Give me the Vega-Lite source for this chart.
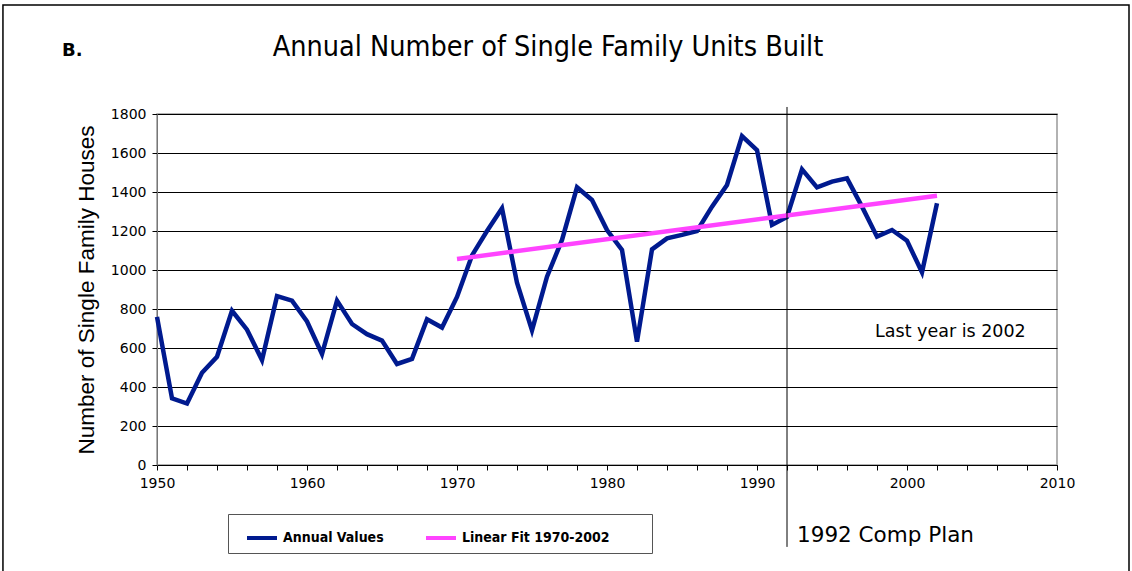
{
  "$schema": "https://vega.github.io/schema/vega-lite/v6.json",
  "width": 900,
  "height": 351,
  "autosize": {"type": "none"},
  "padding": {"left": 157, "top": 114, "right": 75, "bottom": 106},
  "background": "white",
  "config": {
    "view": {"stroke": "#999999", "strokeWidth": 1.5},
    "axis": {"labelFont": "DejaVu Sans", "labelFontSize": 14, "labelColor": "black", "labelOverlap": false}
  },
  "datasets": {
    "series": [
      {"year": 1950, "value": 760, "series": "Annual Values"},
      {"year": 1951, "value": 342, "series": "Annual Values"},
      {"year": 1952, "value": 315, "series": "Annual Values"},
      {"year": 1953, "value": 473, "series": "Annual Values"},
      {"year": 1954, "value": 555, "series": "Annual Values"},
      {"year": 1955, "value": 791, "series": "Annual Values"},
      {"year": 1956, "value": 694, "series": "Annual Values"},
      {"year": 1957, "value": 538, "series": "Annual Values"},
      {"year": 1958, "value": 866, "series": "Annual Values"},
      {"year": 1959, "value": 843, "series": "Annual Values"},
      {"year": 1960, "value": 736, "series": "Annual Values"},
      {"year": 1961, "value": 569, "series": "Annual Values"},
      {"year": 1962, "value": 843, "series": "Annual Values"},
      {"year": 1963, "value": 723, "series": "Annual Values"},
      {"year": 1964, "value": 671, "series": "Annual Values"},
      {"year": 1965, "value": 638, "series": "Annual Values"},
      {"year": 1966, "value": 518, "series": "Annual Values"},
      {"year": 1967, "value": 544, "series": "Annual Values"},
      {"year": 1968, "value": 747, "series": "Annual Values"},
      {"year": 1969, "value": 705, "series": "Annual Values"},
      {"year": 1970, "value": 862, "series": "Annual Values"},
      {"year": 1971, "value": 1075, "series": "Annual Values"},
      {"year": 1972, "value": 1200, "series": "Annual Values"},
      {"year": 1973, "value": 1316, "series": "Annual Values"},
      {"year": 1974, "value": 935, "series": "Annual Values"},
      {"year": 1975, "value": 690, "series": "Annual Values"},
      {"year": 1976, "value": 966, "series": "Annual Values"},
      {"year": 1977, "value": 1154, "series": "Annual Values"},
      {"year": 1978, "value": 1424, "series": "Annual Values"},
      {"year": 1979, "value": 1359, "series": "Annual Values"},
      {"year": 1980, "value": 1205, "series": "Annual Values"},
      {"year": 1981, "value": 1103, "series": "Annual Values"},
      {"year": 1982, "value": 632, "series": "Annual Values"},
      {"year": 1983, "value": 1106, "series": "Annual Values"},
      {"year": 1984, "value": 1162, "series": "Annual Values"},
      {"year": 1985, "value": 1180, "series": "Annual Values"},
      {"year": 1986, "value": 1200, "series": "Annual Values"},
      {"year": 1987, "value": 1325, "series": "Annual Values"},
      {"year": 1988, "value": 1436, "series": "Annual Values"},
      {"year": 1989, "value": 1687, "series": "Annual Values"},
      {"year": 1990, "value": 1615, "series": "Annual Values"},
      {"year": 1991, "value": 1231, "series": "Annual Values"},
      {"year": 1992, "value": 1272, "series": "Annual Values"},
      {"year": 1993, "value": 1516, "series": "Annual Values"},
      {"year": 1994, "value": 1424, "series": "Annual Values"},
      {"year": 1995, "value": 1453, "series": "Annual Values"},
      {"year": 1996, "value": 1470, "series": "Annual Values"},
      {"year": 1997, "value": 1325, "series": "Annual Values"},
      {"year": 1998, "value": 1171, "series": "Annual Values"},
      {"year": 1999, "value": 1205, "series": "Annual Values"},
      {"year": 2000, "value": 1150, "series": "Annual Values"},
      {"year": 2001, "value": 988, "series": "Annual Values"},
      {"year": 2002, "value": 1342, "series": "Annual Values"},
      {"year": 1970, "value": 1056, "series": "Linear Fit 1970-2002"},
      {"year": 2002, "value": 1381, "series": "Linear Fit 1970-2002"}
    ],
    "frame": [{"x": 1939.73, "x2": 2014.8, "y": 2359, "y2": -700}],
    "plan": [{"year": 1992, "top": 1836, "bottom": -420}],
    "notes": [
      {"x": 1997.87, "y": 656, "text": "Last year is 2002", "kind": "note"},
      {"x": 1992.67, "y": -395, "text": "1992 Comp Plan", "kind": "plan"},
      {"x": 1943.67, "y": 2100, "text": "B.", "kind": "label"},
      {"x": 1976.07, "y": 2098, "text": "Annual Number of Single Family Units Built", "kind": "title"}
    ]
  },
  "layer": [
    {
      "data": {"name": "series"},
      "mark": {"type": "line", "strokeWidth": 4.5, "strokeJoin": "miter"},
      "encoding": {
        "x": {
          "field": "year", "type": "quantitative",
          "scale": {"domain": [1950, 2010], "nice": false, "zero": false},
          "axis": {
            "title": null,
            "values": [1950,1952,1954,1956,1958,1960,1962,1964,1966,1968,1970,1972,1974,1976,1978,1980,1982,1984,1986,1988,1990,1992,1994,1996,1998,2000,2002,2004,2006,2008,2010],
            "tickCount": 100,
            "labelExpr": "datum.value % 10 == 0 ? datum.label : ''",
            "format": "d",
            "labelOverlap": false,
            "labelFlush": false,
            "labelFont": "DejaVu Sans",
            "labelFontSize": 14,
            "labelColor": "black",
            "domainColor": "black",
            "tickColor": "black",
            "tickSize": 5,
            "labelPadding": 6,
            "grid": false
          }
        },
        "y": {
          "field": "value", "type": "quantitative",
          "scale": {"domain": [0, 1800], "nice": false},
          "axis": {
            "title": "Number of Single Family Houses",
            "titleFont": "Liberation Sans, Arial",
            "titleFontSize": 22.5,
            "titleFontWeight": "normal",
            "titleColor": "black",
            "titlePadding": 12,
            "values": [0,200,400,600,800,1000,1200,1400,1600,1800],
            "tickCount": 100,
            "format": "d",
            "labelOverlap": false,
            "labelFont": "DejaVu Sans",
            "labelFontSize": 14,
            "labelColor": "black",
            "grid": true,
            "gridColor": "black",
            "gridOpacity": 1,
            "gridWidth": 1,
            "domainColor": "#777777",
            "tickColor": "black",
            "tickSize": 5,
            "labelPadding": 6
          }
        },
        "color": {
          "field": "series", "type": "nominal",
          "scale": {"domain": ["Annual Values", "Linear Fit 1970-2002"], "range": ["#001a8f", "#ff44ff"]},
          "legend": {
            "title": "\u00a0",
            "titleOrient": "right",
            "titlePadding": 35,
            "titleFontSize": 14,
            "orient": "none",
            "legendX": 71,
            "legendY": 400,
            "direction": "horizontal",
            "symbolType": "stroke",
            "symbolSize": 900,
            "symbolStrokeWidth": 4,
            "symbolOffset": 10,
            "labelLimit": 400,
            "labelFont": "Liberation Sans Narrow, DejaVu Sans Condensed",
            "labelFontSize": 14,
            "labelFontWeight": "bold",
            "labelColor": "black",
            "labelOffset": 4,
            "columnPadding": 30,
            "strokeColor": "#555555",
            "padding": 7,
            "fillColor": "white"
          }
        }
      }
    },
    {
      "data": {"name": "frame"},
      "mark": {"type": "rect", "fill": null, "stroke": "black", "strokeWidth": 1.5, "clip": false},
      "encoding": {
        "x": {"field": "x", "type": "quantitative"},
        "x2": {"field": "x2"},
        "y": {"field": "y", "type": "quantitative"},
        "y2": {"field": "y2"}
      }
    },
    {
      "data": {"name": "plan"},
      "mark": {"type": "rule", "color": "black", "strokeWidth": 1, "clip": false},
      "encoding": {
        "x": {"field": "year", "type": "quantitative"},
        "y": {"field": "top", "type": "quantitative"},
        "y2": {"field": "bottom"}
      }
    },
    {
      "data": {"name": "notes"},
      "transform": [{"filter": "datum.kind == 'note'"}],
      "mark": {"type": "text", "align": "left", "baseline": "alphabetic", "font": "DejaVu Sans", "fontSize": 17.5, "color": "black", "clip": false},
      "encoding": {
        "x": {"field": "x", "type": "quantitative"},
        "y": {"field": "y", "type": "quantitative"},
        "text": {"field": "text"}
      }
    },
    {
      "data": {"name": "notes"},
      "transform": [{"filter": "datum.kind == 'plan'"}],
      "mark": {"type": "text", "align": "left", "baseline": "alphabetic", "font": "DejaVu Sans", "fontSize": 21.5, "color": "black", "clip": false},
      "encoding": {
        "x": {"field": "x", "type": "quantitative"},
        "y": {"field": "y", "type": "quantitative"},
        "text": {"field": "text"}
      }
    },
    {
      "data": {"name": "notes"},
      "transform": [{"filter": "datum.kind == 'label'"}],
      "mark": {"type": "text", "align": "left", "baseline": "alphabetic", "font": "DejaVu Sans", "fontSize": 18, "fontWeight": "bold", "color": "black", "clip": false},
      "encoding": {
        "x": {"field": "x", "type": "quantitative"},
        "y": {"field": "y", "type": "quantitative"},
        "text": {"field": "text"}
      }
    },
    {
      "data": {"name": "notes"},
      "transform": [{"filter": "datum.kind == 'title'"}],
      "mark": {"type": "text", "align": "center", "baseline": "alphabetic", "font": "Liberation Sans Narrow, DejaVu Sans Condensed", "fontSize": 28.5, "color": "black", "clip": false},
      "encoding": {
        "x": {"field": "x", "type": "quantitative"},
        "y": {"field": "y", "type": "quantitative"},
        "text": {"field": "text"}
      }
    }
  ]
}
